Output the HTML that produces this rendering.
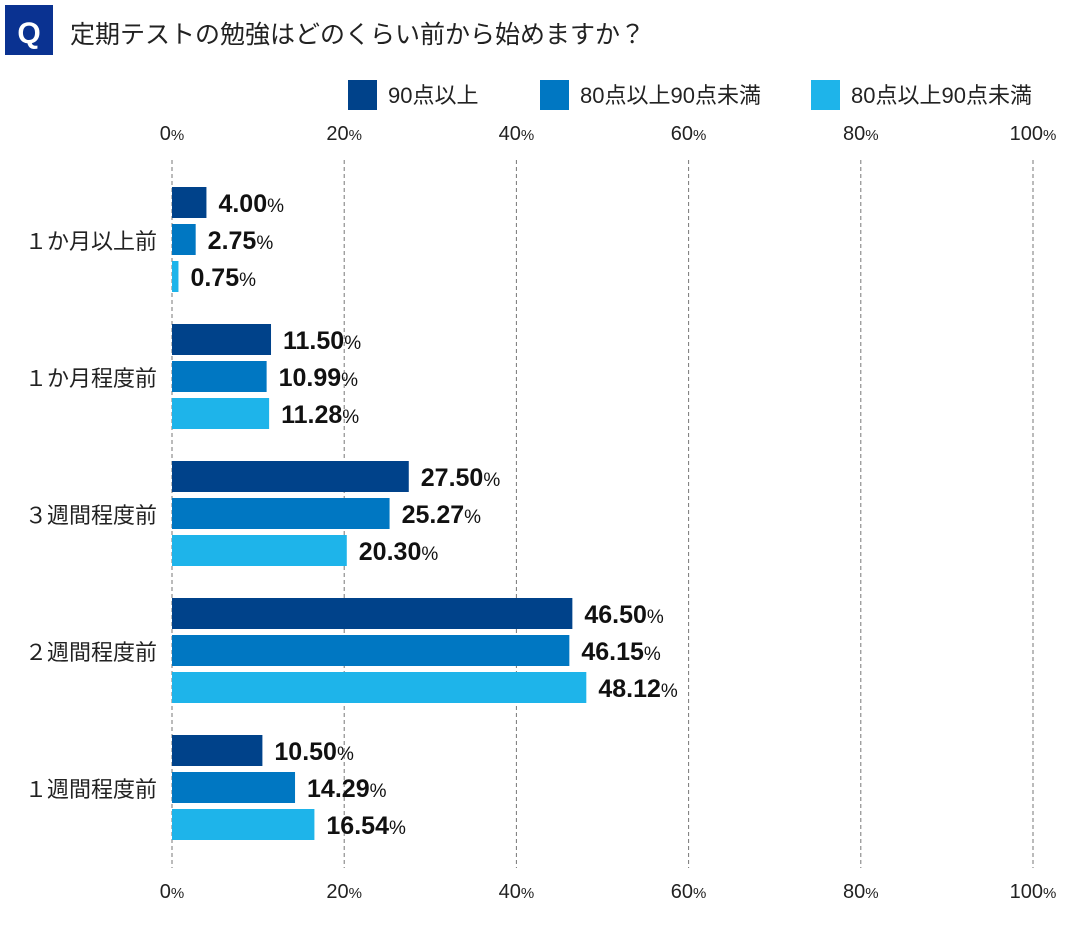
<!DOCTYPE html>
<html><head><meta charset="utf-8"><style>
body{margin:0;background:#fff;width:1080px;height:920px;overflow:hidden}
text{font-family:"Liberation Sans","Noto Sans CJK JP",sans-serif}
</style></head><body>
<svg id="chart" width="1080" height="920" xmlns="http://www.w3.org/2000/svg">
<rect x="5" y="5" width="48" height="50" fill="#0a3291"/>
<text x="29" y="43" text-anchor="middle" font-size="30" font-weight="bold" fill="#fff">Q</text>
<text x="70" y="43" font-size="25" fill="#222">定期テストの勉強はどのくらい前から始めますか？</text>
<g id="legend"></g>
<g id="grid"></g>
<g id="bars"></g>
</svg>
<script>
const categories=["１か月以上前","１か月程度前","３週間程度前","２週間程度前","１週間程度前"];
const seriesNames=["90点以上","80点以上90点未満","80点以上90点未満"];
const s1=[4.00,11.50,27.50,46.50,10.50];
const s2=[2.75,10.99,25.27,46.15,14.29];
const s3=[0.75,11.28,20.30,48.12,16.54];
const ticks=[0,20,40,60,80,100];
const series=[s1,s2,s3];
const colors=["#00428a","#0077c2","#1eb4ea"];
const NS="http://www.w3.org/2000/svg";
const x0=172,x1=1033;
const xs=v=>x0+(x1-x0)*v/100;
function mk(tag,attrs,parent,txt){const e=document.createElementNS(NS,tag);for(const k in attrs)e.setAttribute(k,attrs[k]);if(txt!==undefined)e.textContent=txt;parent.appendChild(e);return e;}
const grid=document.getElementById('grid');
ticks.forEach(t=>{
  const l=mk('line',{x1:xs(t),x2:xs(t),y1:160,y2:868,stroke:'#777','stroke-width':1,'stroke-dasharray':'4,3'},grid);
  
  
  [140,898].forEach((y,i)=>{
    const tx=mk('text',{x:xs(t),y:y,'text-anchor':'middle','font-size':20,fill:'#222'},grid);
    
    
    mk('tspan',{},tx,String(t));
    mk('tspan',{'font-size':15},tx,'%');
  });
});
const legend=document.getElementById('legend');
const lx=[348,540,811];
seriesNames.forEach((n,i)=>{
  const r=mk('rect',{x:lx[i],y:80,width:29,height:30,fill:colors[i]},legend);
  
  
  const t=mk('text',{x:lx[i]+40,y:103,'font-size':22,fill:'#222'},legend,n);
  
  
});
const bars=document.getElementById('bars');
categories.forEach((c,ci)=>{
  const gy=187+ci*137;
  const lab=mk('text',{x:157,y:gy+52+10,'text-anchor':'end','font-size':22,fill:'#222'},bars,c);
  
  
  series.forEach((s,si)=>{
    const y=gy+si*37,v=s[ci];
    const b=mk('rect',{x:x0,y:y,width:xs(v)-x0,height:31,fill:colors[si]},bars);
    
    
    const t=mk('text',{x:xs(v)+12,y:y+25,'font-size':25,'font-weight':'bold',fill:'#111',textLength:0},bars);
    t.removeAttribute('textLength');
    
    
    mk('tspan',{},t,v.toFixed(2));
    mk('tspan',{'font-size':19,'font-weight':'normal'},t,'%');
  });
});
</script>
</body></html>
